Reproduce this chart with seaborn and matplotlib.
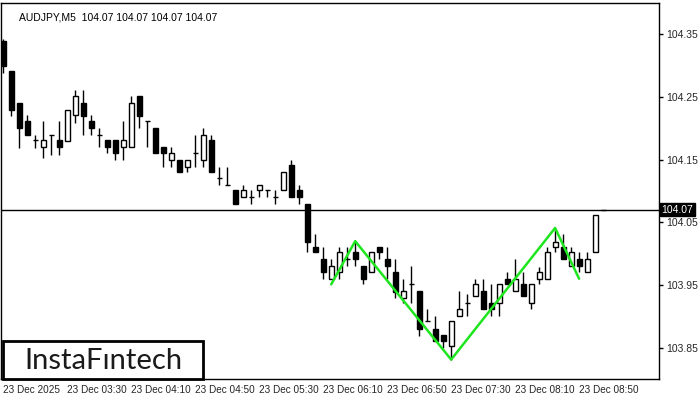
import matplotlib
matplotlib.use("Agg")
import matplotlib.pyplot as plt
from matplotlib.patches import Rectangle
import numpy as np
import pandas as pd
import seaborn as sns

# ── data: AUDJPY M5 candles ────────────────────────────────────────────────
opens = [104.340, 104.291, 104.240, 104.211, 104.181, 104.171, 104.190, 104.181, 104.179, 104.221,
         104.240, 104.211, 104.190, 104.181, 104.181, 104.171, 104.171, 104.251, 104.211, 104.201,
         104.171, 104.150, 104.150, 104.139, 104.160, 104.150, 104.181, 104.120, 104.109, 104.101,
         104.091, 104.091, 104.101, 104.101, 104.091, 104.101, 104.141, 104.101, 104.080, 104.011,
         103.991, 103.960, 103.970, 103.991, 104.002, 103.981, 103.970, 104.011, 103.991, 103.971,
         103.930, 103.951, 103.941, 103.892, 103.880, 103.871, 103.852, 103.901, 103.922, 103.932,
         103.941, 103.922, 103.922, 103.960, 103.941, 103.951, 103.922, 103.960, 103.960, 104.011,
         104.011, 103.981, 103.991, 103.971, 104.002, 104.070]
highs = [104.342, 104.291, 104.240, 104.221, 104.190, 104.211, 104.190, 104.211, 104.230, 104.261,
         104.261, 104.221, 104.201, 104.181, 104.181, 104.211, 104.251, 104.251, 104.211, 104.201,
         104.171, 104.171, 104.150, 104.150, 104.190, 104.201, 104.190, 104.139, 104.139, 104.101,
         104.109, 104.101, 104.109, 104.101, 104.101, 104.131, 104.150, 104.109, 104.080, 104.031,
         104.011, 103.991, 104.011, 104.011, 104.019, 103.981, 104.002, 104.011, 104.011, 103.991,
         103.960, 103.981, 103.941, 103.911, 103.901, 103.871, 103.892, 103.941, 103.935, 103.960,
         103.960, 103.951, 103.951, 103.971, 103.991, 103.971, 103.951, 103.979, 104.011, 104.040,
         104.031, 104.011, 104.002, 104.002, 104.061, 104.070]
lows = [104.289, 104.219, 104.169, 104.189, 104.169, 104.152, 104.158, 104.158, 104.179, 104.209,
        104.189, 104.189, 104.171, 104.160, 104.149, 104.149, 104.171, 104.200, 104.171, 104.160,
        104.139, 104.139, 104.130, 104.130, 104.139, 104.139, 104.130, 104.109, 104.109, 104.080,
        104.091, 104.080, 104.091, 104.091, 104.080, 104.101, 104.091, 104.080, 104.002, 104.002,
        103.960, 103.960, 103.960, 103.981, 103.981, 103.951, 103.970, 103.991, 103.960, 103.930,
        103.922, 103.922, 103.869, 103.892, 103.860, 103.850, 103.831, 103.901, 103.901, 103.932,
        103.911, 103.900, 103.900, 103.951, 103.941, 103.932, 103.911, 103.951, 103.960, 104.002,
        103.991, 103.981, 103.971, 103.971, 104.002, 104.070]
closes = [104.300, 104.229, 104.200, 104.189, 104.181, 104.181, 104.190, 104.171, 104.230, 104.251,
          104.219, 104.200, 104.190, 104.171, 104.160, 104.181, 104.240, 104.219, 104.211, 104.160,
          104.160, 104.160, 104.130, 104.150, 104.160, 104.190, 104.130, 104.120, 104.109, 104.080,
          104.101, 104.091, 104.109, 104.101, 104.091, 104.131, 104.091, 104.091, 104.019, 104.002,
          103.970, 103.981, 104.002, 103.991, 103.991, 103.960, 104.002, 104.002, 103.981, 103.939,
          103.941, 103.951, 103.880, 103.892, 103.860, 103.860, 103.892, 103.911, 103.922, 103.951,
          103.911, 103.911, 103.951, 103.951, 103.960, 103.932, 103.951, 103.971, 104.002, 104.019,
          103.991, 104.002, 103.981, 103.991, 104.061, 104.070]

# triple-top/bottom style pattern drawn in green (bar index, price)
pattern_bar = [41, 44, 56, 69, 72]
pattern_price = [103.951, 104.020, 103.831, 104.041, 103.960]

last_price = 104.07
price_ticks = [103.85, 103.95, 104.05, 104.15, 104.25, 104.35]
time_labels = ["23 Dec 2025", "23 Dec 03:30", "23 Dec 04:10", "23 Dec 04:50", "23 Dec 05:30",
               "23 Dec 06:10", "23 Dec 06:50", "23 Dec 07:30", "23 Dec 08:10", "23 Dec 08:50"]
BARS_PER_LABEL = 8

# ── figure ─────────────────────────────────────────────────────────────────
sns.set_style("white")
plt.rcParams["font.family"] = ["Liberation Sans", "DejaVu Sans"]

fig = plt.figure(figsize=(7, 4), dpi=100)
ax = fig.add_axes([0.002, 0.0525, 0.9395, 0.94])

df = pd.DataFrame({"open": opens, "high": highs, "low": lows, "close": closes})
df["x"] = np.arange(len(df))
up = df["close"] >= df["open"]

# wicks
ax.vlines(df["x"], df["low"], df["high"], color="black", linewidth=1, zorder=2)
# bodies
body_lo = df[["open", "close"]].min(axis=1)
body_h = (df["close"] - df["open"]).abs()
ax.bar(df["x"][up], body_h[up], bottom=body_lo[up], width=0.62,
       color="white", edgecolor="black", linewidth=1, zorder=3)
ax.bar(df["x"][~up], body_h[~up], bottom=body_lo[~up], width=0.62,
       color="black", edgecolor="black", linewidth=1, zorder=3)

# pattern line
sns.lineplot(x=pattern_bar, y=pattern_price, ax=ax, color="#1ee61e",
             linewidth=1.8, zorder=4, sort=False)

# current price line + label
ax.axhline(last_price, color="black", linewidth=1, zorder=1)
ax.text(1.004, last_price, f"{last_price:.2f}", transform=ax.get_yaxis_transform(),
        va="center", ha="left", fontsize=7.5, color="white", clip_on=False,
        bbox=dict(boxstyle="square,pad=0.15", fc="black", ec="black"))

ax.set_xlim(-0.25, 82)
ax.set_ylim(103.80, 104.40)

ax.yaxis.tick_right()
ax.set_yticks(price_ticks)
ax.set_yticklabels([f"{t:.2f}" for t in price_ticks], fontsize=7.5)
ax.set_xticks(np.arange(len(time_labels)) * BARS_PER_LABEL)
ax.set_xticklabels(time_labels, fontsize=7.2, ha="left")
ax.tick_params(axis="both", direction="out", length=3, width=1, color="black", pad=2)
ax.tick_params(axis="x", pad=1)
for s in ax.spines.values():
    s.set_color("black")
    s.set_linewidth(1)
ax.set_xlabel("")
ax.set_ylabel("")

# header
ax.text(0.027, 0.975, "AUDJPY,M5  104.07 104.07 104.07 104.07", transform=ax.transAxes,
        fontsize=7.5, va="top", ha="left", color="black")

# logo
ax.add_patch(Rectangle((0.003, 0.0), 0.303, 0.1, transform=ax.transAxes, fill=True,
                       fc="white", ec="black", linewidth=2, zorder=5, clip_on=False))
ax.text(0.155, 0.048, "InstaF\u0131ntech", transform=ax.transAxes, fontsize=21,
        family=["Lato", "DejaVu Sans"], va="center", ha="center", color="#1a1a1a", zorder=6)

fig.savefig("out.png", dpi=100)
